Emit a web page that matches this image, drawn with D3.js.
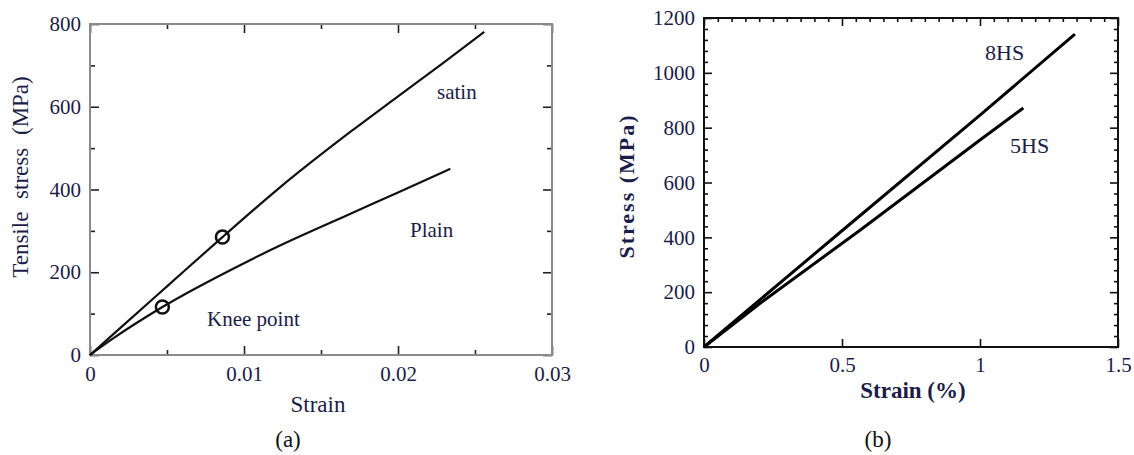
<!DOCTYPE html>
<html>
<head>
<meta charset="utf-8">
<script src="https://cdn.jsdelivr.net/npm/d3@7"></script>
<style>
  html, body { margin: 0; padding: 0; background: #fff; }
  svg { display: block; }
  text { font-family: "Liberation Serif", "Times New Roman", serif; fill: #1c1c48; }
</style>
</head>
<body>
<svg id="chart" width="1134" height="455"></svg>
<script>
// ---------- Panel (a) data ----------
const aStrainTicks = [0, 0.01, 0.02, 0.03];
const aStrainMinor = [0.005, 0.015, 0.025];
const aStressTicks = [0, 200, 400, 600, 800];
const aStressMinor = [100, 300, 500, 700];
const satinStrain = [0, 0.0015, 0.005, 0.0086, 0.0123, 0.0169, 0.0200, 0.0229, 0.0256];
const satinStress = [0, 50, 166, 285, 404, 539, 625, 705, 781];
const plainStrain = [0, 0.0015, 0.0047, 0.0100, 0.0123, 0.0167, 0.0200, 0.0234];
const plainStress = [0, 40, 116, 222, 264, 338, 393, 450];
const kneeStrain = [0.0047, 0.0086];
const kneeStress = [116, 285];

// ---------- Panel (b) data ----------
const bStrainTicks = [0, 0.5, 1, 1.5];
const bStrainMinor = [0.05, 0.1, 0.15, 0.2, 0.25, 0.3, 0.35, 0.4, 0.45,
                      0.55, 0.6, 0.65, 0.7, 0.75, 0.8, 0.85, 0.9, 0.95,
                      1.05, 1.1, 1.15, 1.2, 1.25, 1.3, 1.35, 1.4, 1.45];
const bStressTicks = [0, 200, 400, 600, 800, 1000, 1200];
const bStressMinor = [40, 80, 120, 160, 240, 280, 320, 360, 440, 480, 520, 560,
                      640, 680, 720, 760, 840, 880, 920, 960, 1040, 1080, 1120, 1160];
const hs8Strain = [0, 0.2, 0.5, 1.0, 1.344];
const hs8Stress = [0, 170, 424, 846, 1141];
const hs5Strain = [0, 0.2, 0.564, 1.0, 1.157];
const hs5Stress = [0, 157, 425, 755, 872];

const svg = d3.select("#chart");

function inwardAxes(g, x, y, opt) {
  const [x0, x1] = x.range();
  const [y0, y1] = y.range();
  const W = x1 - x0, H = y0 - y1;
  g.append("g").attr("transform", `translate(0,${y0})`)
    .call(d3.axisBottom(x).tickValues(opt.xMajor).tickSize(-opt.major).tickPadding(opt.xPad).tickFormat(opt.xFmt));
  if (opt.bottomMinor) {
    g.append("g").attr("transform", `translate(0,${y0})`)
      .call(d3.axisBottom(x).tickValues(opt.xMinor).tickSize(-opt.minor).tickFormat(""));
  }
  g.append("g").attr("transform", `translate(0,${y1})`)
    .call(d3.axisTop(x).tickValues(opt.xMajor).tickSize(-opt.major).tickFormat(""));
  g.append("g").attr("transform", `translate(0,${y1})`)
    .call(d3.axisTop(x).tickValues(opt.xMinor).tickSize(-opt.minor).tickFormat(""));
  g.append("g").attr("transform", `translate(${x0},0)`)
    .call(d3.axisLeft(y).tickValues(opt.yMajor).tickSize(-opt.major).tickPadding(opt.yPad).tickFormat(d3.format("d")));
  g.append("g").attr("transform", `translate(${x0},0)`)
    .call(d3.axisLeft(y).tickValues(opt.yMinor).tickSize(-opt.minor).tickFormat(""));
  g.append("g").attr("transform", `translate(${x1},0)`)
    .call(d3.axisRight(y).tickValues(opt.yMajor).tickSize(-opt.major).tickFormat(""));
  g.append("g").attr("transform", `translate(${x1},0)`)
    .call(d3.axisRight(y).tickValues(opt.yMinor).tickSize(-opt.minor).tickFormat(""));

  g.selectAll(".domain").remove();
  g.selectAll(".tick line").attr("stroke", opt.tickColor).attr("stroke-width", opt.tickWidth);
  g.selectAll(".tick text")
    .attr("fill", "#1c1c48")
    .style("font-family", '"Liberation Serif", serif')
    .style("font-size", opt.fontSize + "px");
  g.append("rect").attr("x", x0).attr("y", y1).attr("width", W).attr("height", H)
    .attr("fill", "none").attr("stroke", opt.frameColor).attr("stroke-width", opt.frameWidth);
}

// ================= Panel (a) =================
{
  const x = d3.scaleLinear().domain([0, 0.03]).range([90, 552]);
  const y = d3.scaleLinear().domain([0, 800]).range([355, 24]);
  const g = svg.append("g");
  inwardAxes(g, x, y, {
    xMajor: aStrainTicks, xMinor: aStrainMinor, yMajor: aStressTicks, yMinor: aStressMinor,
    major: 9, minor: 5, xPad: 11, yPad: 9, xFmt: d => d === 0 ? "0" : d3.format(".2~f")(d),
    bottomMinor: true, tickColor: "#222", tickWidth: 1.6, frameColor: "#8a8a8a", frameWidth: 2, fontSize: 21
  });

  const line = d3.line().x(d => x(d[0])).y(d => y(d[1])).curve(d3.curveMonotoneX);
  g.append("path").datum(d3.zip(satinStrain, satinStress)).attr("d", line)
    .attr("fill", "none").attr("stroke", "#111").attr("stroke-width", 2.2);
  g.append("path").datum(d3.zip(plainStrain, plainStress)).attr("d", line)
    .attr("fill", "none").attr("stroke", "#111").attr("stroke-width", 2.2);
  g.selectAll("circle.knee").data(d3.zip(kneeStrain, kneeStress)).join("circle")
    .attr("class", "knee").attr("cx", d => x(d[0])).attr("cy", d => y(d[1])).attr("r", 6.5)
    .attr("fill", "none").attr("stroke", "#111").attr("stroke-width", 2.5);

  g.append("text").attr("x", 437).attr("y", 99).style("font-size", "21px").text("satin");
  g.append("text").attr("x", 410).attr("y", 237).style("font-size", "21px").text("Plain");
  g.append("text").attr("x", 207).attr("y", 326).style("font-size", "21px").text("Knee point");

  g.append("text").attr("text-anchor", "middle").attr("x", 318).attr("y", 412)
    .style("font-size", "23px").text("Strain");
  g.append("text").attr("text-anchor", "middle")
    .attr("transform", "translate(28,177) rotate(-90)")
    .style("font-size", "23px").style("word-spacing", "7px").text("Tensile stress (MPa)");
  g.append("text").attr("text-anchor", "middle").attr("x", 288).attr("y", 447)
    .style("font-size", "23px").style("fill", "#111").text("(a)");
}

// ================= Panel (b) =================
{
  const x = d3.scaleLinear().domain([0, 1.5]).range([704, 1118]);
  const y = d3.scaleLinear().domain([0, 1200]).range([347, 18]);
  const g = svg.append("g");
  inwardAxes(g, x, y, {
    xMajor: bStrainTicks, xMinor: bStrainMinor, yMajor: bStressTicks, yMinor: bStressMinor,
    major: 8, minor: 4, xPad: 10, yPad: 9, xFmt: d => d3.format("~g")(d),
    bottomMinor: false, tickColor: "#111", tickWidth: 1.6, frameColor: "#111", frameWidth: 2, fontSize: 21
  });

  const line = d3.line().x(d => x(d[0])).y(d => y(d[1]));
  g.append("path").datum(d3.zip(hs8Strain, hs8Stress)).attr("d", line)
    .attr("fill", "none").attr("stroke", "#000").attr("stroke-width", 3);
  g.append("path").datum(d3.zip(hs5Strain, hs5Stress)).attr("d", line)
    .attr("fill", "none").attr("stroke", "#000").attr("stroke-width", 3);

  g.append("text").attr("x", 985).attr("y", 60).style("font-size", "22px").text("8HS");
  g.append("text").attr("x", 1010).attr("y", 153).style("font-size", "22px").text("5HS");

  g.append("text").attr("text-anchor", "middle").attr("x", 913).attr("y", 398)
    .style("font-size", "23px").style("font-weight", "bold").text("Strain (%)");
  g.append("text").attr("text-anchor", "middle")
    .attr("transform", "translate(634,186) rotate(-90)")
    .style("font-size", "22px").style("font-weight", "bold").style("letter-spacing", "2px").text("Stress (MPa)");
  g.append("text").attr("text-anchor", "middle").attr("x", 878).attr("y", 447)
    .style("font-size", "23px").style("fill", "#111").text("(b)");
}
</script>
</body>
</html>
